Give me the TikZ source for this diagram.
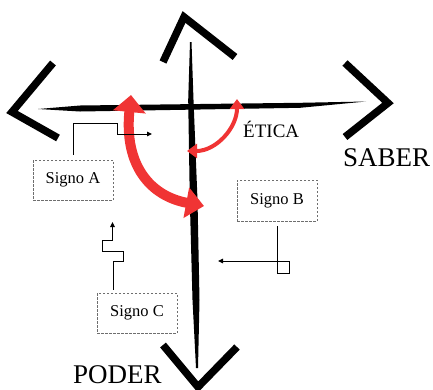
\documentclass[tikz,border=0pt]{standalone}
\usepackage{fontspec}
\setmainfont{Liberation Serif}
\usetikzlibrary{arrows.meta}
\definecolor{brushred}{RGB}{240,52,52}
\definecolor{boxgray}{RGB}{110,110,110}
\tikzset{
  brush/.style={fill=black, draw=none},
  chevron/.style={draw=black, line width=7.5pt, line join=miter, line cap=butt},
  signbox/.style={draw=boxgray, dash pattern=on 2.5pt off 1.5pt, line width=0.8pt,
    minimum width=80pt, minimum height=40pt, inner sep=0pt,
    font=\fontsize{16.5}{18}\selectfont},
  conn/.style={draw=black, line width=1pt, -{Triangle[length=5pt,width=4.5pt]}},
  connplain/.style={draw=black, line width=1pt},
  bigred/.style={draw=brushred, line width=10pt,
    {Triangle[width=32pt,length=17pt]}-{Triangle[width=30pt,length=18pt]}},
  smallred/.style={draw=brushred, line width=4pt,
    {Triangle[width=14pt,length=10pt]}-{Triangle[width=14pt,length=10pt]}},
  bigword/.style={font=\fontsize{27}{30}\selectfont, inner sep=0pt},
  midword/.style={font=\fontsize{19}{22}\selectfont, inner sep=0pt}
}
\begin{document}
\begin{tikzpicture}[x=1pt,y=-1pt]
\useasboundingbox (0,0) rectangle (433,389);
% key coordinates
\coordinate (lefttip) at (12,112);
\coordinate (righttip) at (388,103);
\coordinate (uptip) at (184,17);
\coordinate (downtip) at (198,387);
% horizontal axis (brush stroke)
\path[brush] (38,109) -- (80,105.5) -- (200,104) -- (300,102.8) -- (366,101.5)
  -- (300,107.8) -- (200,109.5) -- (80,111.5) -- cycle;
% vertical axis (brush stroke)
\path[brush] (190,42) -- (188.2,100) -- (189.8,200) -- (192.5,300) -- (196,368)
  -- (198,368) -- (199.5,300) -- (197.5,200) -- (193.5,100) -- (191.5,42) -- cycle;
% chevrons
\draw[chevron] (53,63) -- (lefttip) -- (58,138);
\draw[chevron] (345,63) -- (righttip) -- (345,137);
\draw[chevron] (163,62) -- (uptip) -- (235,57);
\draw[chevron] (163,345) -- (downtip) -- (237,347);
% red arrows
\draw[bigred] (131,95) .. controls (124,165) and (150,196) .. (204,206);
\draw[smallred] (187,151) .. controls (216,151) and (237,128) .. (237,99);
% labels
\node[midword, anchor=base west] (etica) at (243,137) {ÉTICA};
\node[bigword, anchor=base west] (saber) at (343,166) {SABER};
\node[bigword, anchor=base west] (poder) at (73,383) {PODER};
% sign boxes
\node[signbox] (signoA) at (73,180) {Signo A};
\node[signbox, minimum height=41pt] (signoB) at (277,200.5) {Signo B};
\node[signbox] (signoC) at (137,313) {Signo C};
% connectors
\draw[conn, shorten <=5pt] (signoA.north) -- (73,123) -- (117,123) -- (117,134) -- (152,134);
\draw[conn, shorten <=5pt] (signoB.south) -- (277,273) -- (289,273) -- (289,261) -- (218,261);
\draw[conn, shorten <=3pt] (signoC.north -| 113,0) -- (113,261) -- (123,261) -- (123,251)
  -- (102.5,251) -- (102.5,240) -- (112.5,240) -- (112.5,222);
\end{tikzpicture}
\end{document}
